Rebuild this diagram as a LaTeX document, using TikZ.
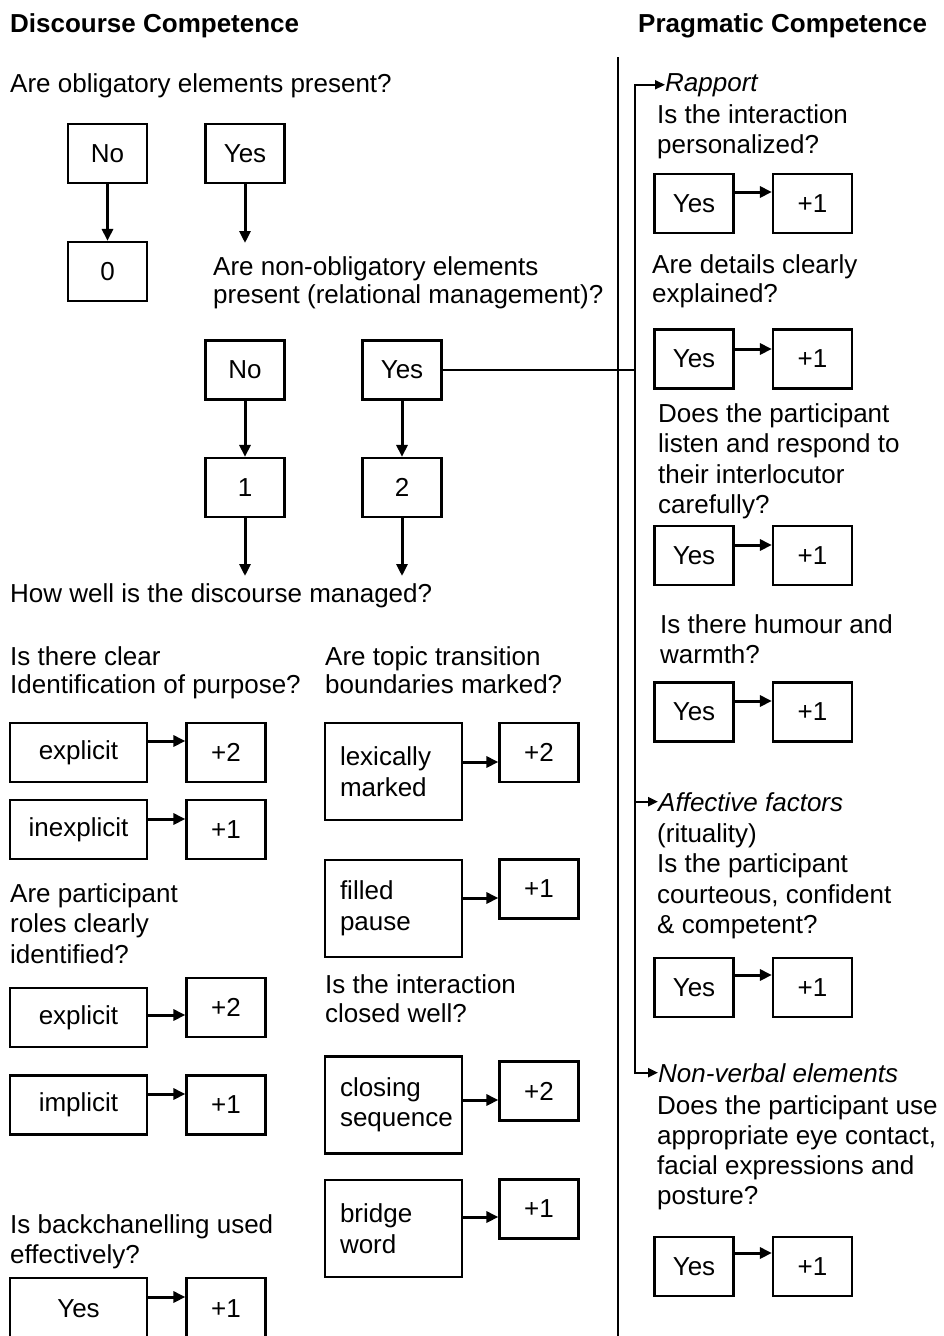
\documentclass[tikz,border=0pt]{standalone}
\usepackage{fontspec}
\setmainfont{Liberation Sans}
\usetikzlibrary{arrows.meta}
\newcommand\F{\fontsize{26}{30.5}\selectfont}
\newcommand\mlines[2][30]{{\fontsize{26}{#1}\selectfont\begin{tabular}[t]{@{}l@{}}#2\end{tabular}}}
\tikzset{
  txt/.style={anchor=base west, inner sep=0pt, font=\F},
  itxt/.style={anchor=base west, inner sep=0pt, font=\F\itshape},
  hdr/.style={anchor=base west, inner sep=0pt, font=\F\bfseries},
  box/.style={draw, line width=2.2pt, minimum width=79pt, minimum height=59pt, inner sep=0pt, font=\F},
  wbox/.style={box, minimum width=137pt},
  tbox/.style={draw, line width=2.2pt, text width=107pt, inner xsep=15pt, inner ysep=0pt, minimum height=97pt, align=left, font=\F},
  arr/.style={line width=3pt, -{Triangle[length=12pt,width=11pt]}},
  tarr/.style={line width=2.2pt, -{Triangle[length=10pt,width=9pt]}},
  plain/.style={line width=2.2pt},
}
\begin{document}
\begin{tikzpicture}[x=1pt,y=-1pt]
\fill[white] (0,0) rectangle (943,1336);
\useasboundingbox (0,0) rectangle (943,1336);

% headers
\node[hdr] (hd) at (10,32) {Discourse Competence};
\node[hdr] (hp) at (638,32) {Pragmatic Competence};

% separator
\draw[plain] (618,57) -- (618,1340);

% ---------- discourse: top ----------
\node[txt] (q1) at (10,92) {Are obligatory elements present?};
\node[box] (no1) at (107.5,153.5) {No};
\node[box] (yes1) at (245,153.5) {Yes};
\node[box] (zero) at (107.5,271.5) {0};
\draw[arr] (no1) -- (zero);
\coordinate (c1) at (245,243);
\draw[arr] (yes1) -- (c1);
\node[txt] (q2) at (213,275) {\mlines[28]{Are non-obligatory elements\\present (relational management)?}};

\node[box] (no2) at (245,370) {No};
\node[box] (yes2) at (402,370) {Yes};
\node[box] (one) at (245,487.5) {1};
\node[box] (two) at (402,487.5) {2};
\draw[arr] (no2) -- (one);
\draw[arr] (yes2) -- (two);
\coordinate (c2) at (245,576);
\coordinate (c3) at (402,576);
\draw[arr] (one) -- (c2);
\draw[arr] (two) -- (c3);
\node[txt] (q3) at (10,602) {How well is the discourse managed?};

% ---------- discourse: lower left ----------
\node[txt] (q4) at (10,665) {\mlines[28]{Is there clear\\Identification of purpose?}};
\node[wbox] (expl1) at (78.5,752.5) {explicit};
\node[box] (p2a) at (226,752.5) {+2};
\draw[arr] (expl1.east |- 0,741) -- (p2a.west |- 0,741);
\node[wbox] (inexpl) at (78.5,829.5) {inexplicit};
\node[box] (p1a) at (226,829.5) {+1};
\draw[arr] (inexpl.east |- 0,819) -- (p1a.west |- 0,819);

\node[txt] (q6) at (10,902) {\mlines[30.5]{Are participant\\roles clearly\\identified?}};
\node[wbox] (expl2) at (78.5,1017.5) {explicit};
\node[box] (p2b) at (226,1007.5) {+2};
\draw[arr] (expl2.east |- 0,1015) -- (p2b.west |- 0,1015);
\node[wbox] (impl) at (78.5,1105) {implicit};
\node[box] (p1b) at (226,1105) {+1};
\draw[arr] (impl.east |- 0,1094) -- (p1b.west |- 0,1094);

\node[txt] (q8) at (10,1233) {\mlines[30]{Is backchanelling used\\effectively?}};
\node[wbox, minimum height=62pt] (ybc) at (78.5,1309) {Yes};
\node[box, minimum height=62pt] (p1c) at (226,1309) {+1};
\draw[arr] (ybc.east |- 0,1297) -- (p1c.west |- 0,1297);

% ---------- discourse: lower right ----------
\node[txt] (q5) at (325,665) {\mlines[28]{Are topic transition\\boundaries marked?}};
\node[tbox] (lex) at (393.5,771.5) {lexically\\marked};
\node[box] (p2c) at (539,752.5) {+2};
\draw[arr] (lex.east |- 0,762) -- (p2c.west |- 0,762);
\node[tbox] (fill) at (393.5,908.5) {filled\\pause};
\node[box] (p1d) at (539,889) {+1};
\draw[arr] (fill.east |- 0,898) -- (p1d.west |- 0,898);

\node[txt] (q7) at (325,993) {\mlines[29]{Is the interaction\\closed well?}};
\node[tbox] (clos) at (393.5,1105) {closing\\sequence};
\node[box] (p2d) at (539,1091) {+2};
\draw[arr] (clos.east |- 0,1100) -- (p2d.west |- 0,1100);
\node[tbox] (bridge) at (393.5,1228.5) {bridge\\word};
\node[box] (p1e) at (539,1209) {+1};
\draw[arr] (bridge.east |- 0,1217) -- (p1e.west |- 0,1217);

% ---------- pragmatic ----------
\coordinate (tj) at (635,370);
\draw[plain] (yes2.east) -- (tj);

\node[itxt] (rap) at (665,91) {Rapport};
\draw[tarr] (tj) |- (rap.west);
\node[txt] (r1) at (657,123) {\mlines[30]{Is the interaction\\personalized?}};
\node[box] (ry1) at (694,203.5) {Yes};
\node[box] (rp1) at (812.5,203.5) {+1};
\draw[arr] (ry1.east |- 0,192) -- (rp1.west |- 0,192);

\node[txt] (r2) at (652,273) {\mlines[29]{Are details clearly\\explained?}};
\node[box] (ry2) at (694,359) {Yes};
\node[box] (rp2) at (812.5,359) {+1};
\draw[arr] (ry2.east |- 0,349) -- (rp2.west |- 0,349);

\node[txt] (r3) at (658,422) {\mlines[30.5]{Does the participant\\listen and respond to\\their interlocutor\\carefully?}};
\node[box] (ry3) at (694,555.5) {Yes};
\node[box] (rp3) at (812.5,555.5) {+1};
\draw[arr] (ry3.east |- 0,545) -- (rp3.west |- 0,545);

\node[txt] (r4) at (660,633) {\mlines[30]{Is there humour and\\warmth?}};
\node[box] (ry4) at (694,712) {Yes};
\node[box] (rp4) at (812.5,712) {+1};
\draw[arr] (ry4.east |- 0,701) -- (rp4.west |- 0,701);

\node[itxt] (aff) at (658,811) {Affective factors};
\draw[tarr] (tj) |- (aff.west);
\node[txt] (a1) at (657,842) {\mlines[30.5]{(rituality)\\Is the participant\\courteous, confident\\\& competent?}};
\node[box] (ay) at (694,987.5) {Yes};
\node[box] (ap) at (812.5,987.5) {+1};
\draw[arr] (ay.east |- 0,975) -- (ap.west |- 0,975);

\node[itxt] (nv) at (658,1082) {Non-verbal elements};
\draw[tarr] (tj) |- (nv.west);
\node[txt] (n1) at (657,1114) {\mlines[30]{Does the participant use\\appropriate eye contact,\\facial expressions and\\posture?}};
\node[box] (ny) at (694,1266.5) {Yes};
\node[box] (np) at (812.5,1266.5) {+1};
\draw[arr] (ny.east |- 0,1253) -- (np.west |- 0,1253);
\end{tikzpicture}
\end{document}
